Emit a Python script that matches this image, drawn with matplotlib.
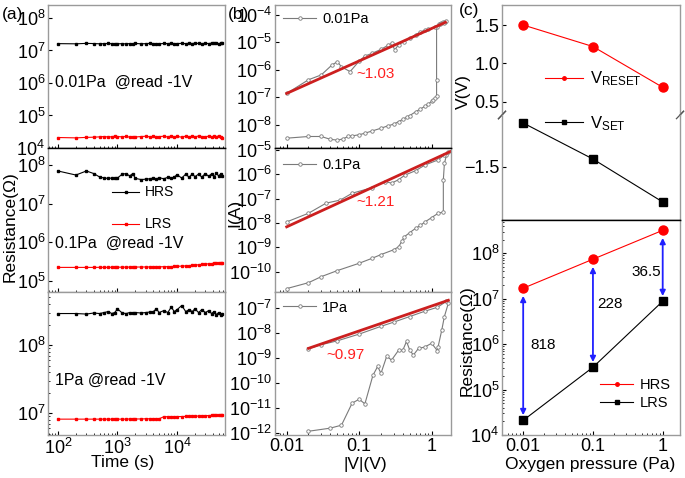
import numpy as np
import matplotlib.pyplot as plt
from matplotlib.lines import Line2D

plt.rcParams['font.family'] = ['Liberation Sans', 'DejaVu Sans']
plt.rcParams['mathtext.default'] = 'regular'

# ---- (a) retention data ----
t = [100, 200, 300, 400, 500, 600, 700, 800, 900, 1000, 1200, 1400, 1600, 1800, 2000,
     2500, 3000, 3500, 4000, 4500, 5000, 6000, 7000, 8000, 9000, 10000, 12000, 14000,
     16000, 18000, 20000, 23000, 26000, 30000, 34000, 38000, 42000, 46000, 50000, 54000, 58000]
hrs_001 = [1.62, 1.60, 1.65, 1.63, 1.60, 1.62, 1.64, 1.61, 1.63, 1.60, 1.62, 1.59, 1.63, 1.61,
           1.64, 1.60, 1.62, 1.65, 1.61, 1.63, 1.60, 1.64, 1.62, 1.66, 1.61, 1.63, 1.65, 1.62,
           1.66, 1.63, 1.67, 1.64, 1.62, 1.66, 1.63, 1.67, 1.64, 1.66, 1.63, 1.65, 1.64]  # x1e7
lrs_001 = [2.10, 2.05, 2.12, 2.15, 2.20, 2.25, 2.18, 2.22, 2.30, 2.25, 2.20, 2.28, 2.15, 2.22,
           2.18, 2.25, 2.30, 2.20, 2.27, 2.15, 2.24, 2.30, 2.18, 2.35, 2.20, 2.28, 2.15, 2.32,
           2.22, 2.30, 2.18, 2.35, 2.25, 2.20, 2.32, 2.15, 2.28, 2.24, 2.35, 2.20, 2.10]  # x1e4
hrs_01 = [7.0, 5.5, 7.0, 6.0, 4.9, 4.6, 4.5, 4.6, 4.5, 4.6, 5.8, 6.0, 5.2, 6.0, 4.5, 4.2, 4.3,
          4.4, 4.6, 4.3, 4.7, 4.4, 4.8, 4.5, 4.9, 5.6, 4.6, 5.8, 4.8, 5.9, 5.0, 5.8, 4.9, 6.0,
          5.1, 5.9, 5.0, 6.1, 5.2, 5.8, 5.3]  # x1e7
lrs_01 = [2.25, 2.25, 2.25, 2.25, 2.26, 2.26, 2.26, 2.27, 2.27, 2.28, 2.28, 2.29, 2.29, 2.30,
          2.30, 2.30, 2.31, 2.31, 2.32, 2.32, 2.33, 2.34, 2.35, 2.36, 2.38, 2.40, 2.43, 2.46,
          2.50, 2.54, 2.58, 2.63, 2.68, 2.74, 2.79, 2.83, 2.86, 2.89, 2.92, 2.94, 2.95]  # x1e5
hrs_1 = [2.9, 2.9, 2.85, 2.95, 2.9, 3.0, 3.1, 2.9, 3.0, 3.4, 2.95, 2.9, 3.0, 2.95, 3.0, 2.95,
         3.0, 3.05, 3.1, 3.4, 3.0, 3.2, 3.0, 3.6, 3.1, 3.3, 3.8, 3.1, 3.3, 3.1, 3.4, 3.0, 3.3,
         3.0, 3.2, 2.9, 3.1, 2.8, 3.0, 2.8, 2.9]  # x1e8
lrs_1 = [8.2, 8.2, 8.2, 8.2, 8.2, 8.2, 8.2, 8.2, 8.2, 8.2, 8.2, 8.2, 8.25, 8.25, 8.25, 8.25,
         8.3, 8.3, 8.3, 8.3, 8.3, 8.9, 8.9, 8.9, 8.9, 8.95, 8.95, 9.0, 9.0, 9.05, 9.1, 9.1,
         9.15, 9.2, 9.25, 9.3, 9.35, 9.4, 9.4, 9.45, 9.5]  # x1e6

# ---- (b) I-V data ----
v_001 = [0.01, 0.02, 0.03, 0.04, 0.05, 0.06, 0.07, 0.08, 0.1, 0.12, 0.15, 0.2, 0.25, 0.3,
         0.35, 0.4, 0.45, 0.5, 0.6, 0.7, 0.8, 0.9, 1.0, 1.05, 1.1, 1.17, 1.17, 1.17, 1.25,
         1.35, 1.45, 1.55, 1.6, 1.5, 1.3, 1.1, 0.9, 0.8, 0.7, 0.6, 0.5, 0.41, 0.35, 0.31,
         0.28, 0.25, 0.2, 0.15, 0.12, 0.1, 0.075, 0.057, 0.05, 0.042, 0.03, 0.02, 0.01]
i_001 = [3.3e-9, 3.8e-9, 3.8e-9, 3.0e-9, 2.8e-9, 3.1e-9, 3.8e-9, 4.0e-9, 4.4e-9, 5.0e-9,
         6.0e-9, 7.6e-9, 9.3e-9, 1.07e-8, 1.32e-8, 1.6e-8, 1.9e-8, 2.2e-8, 3.0e-8, 3.8e-8,
         4.7e-8, 5.8e-8, 7.2e-8, 8.1e-8, 9.3e-8, 1.1e-7, 4.4e-7, 3.5e-5, 4.5e-5, 5.0e-5,
         5.4e-5, 5.6e-5, 5.8e-5, 5.2e-5, 4.5e-5, 3.5e-5, 3.0e-5, 2.8e-5, 2.4e-5, 1.9e-5,
         1.4e-5, 1.07e-5, 8.3e-6, 5.4e-6, 9.3e-6, 7.9e-6, 5.6e-6, 4.0e-6, 3.2e-6, 2.1e-6,
         8.7e-7, 1.3e-6, 2.0e-6, 1.5e-6, 6.6e-7, 4.4e-7, 1.4e-7]
v_01 = [0.01, 0.02, 0.03, 0.05, 0.1, 0.15, 0.2, 0.3, 0.35, 0.39, 0.42, 0.5, 0.6, 0.7, 0.81,
        1.0, 1.23, 1.45, 1.45, 1.5, 1.6, 1.7, 1.5, 1.23, 0.81, 0.6, 0.43, 0.35, 0.28, 0.23,
        0.15, 0.08, 0.055, 0.035, 0.02, 0.01]
i_01 = [2.0e-11, 3.5e-11, 6.2e-11, 1.1e-10, 2.2e-10, 3.5e-10, 5.0e-10, 7.9e-10, 1.05e-9,
        1.8e-9, 2.7e-9, 4.0e-9, 6.0e-9, 7.9e-9, 1.1e-8, 1.66e-8, 2.5e-8, 2.8e-8, 5.9e-7,
        2.8e-6, 6.0e-6, 8.0e-6, 6.2e-6, 3.9e-6, 2.4e-6, 1.4e-6, 9.3e-7, 6.0e-7, 4.3e-7,
        5.0e-7, 2.8e-7, 1.66e-7, 8.7e-8, 6.5e-8, 2.5e-8, 1.1e-8]
v_1 = [0.02, 0.04, 0.057, 0.08, 0.1, 0.12, 0.155, 0.18, 0.2, 0.24, 0.28, 0.35, 0.4, 0.45,
       0.5, 0.56, 0.66, 0.8, 1.0, 1.2, 1.23, 1.38, 1.5, 1.7, 1.6, 1.2, 0.8, 0.5, 0.3, 0.2,
       0.1, 0.05, 0.03, 0.02]
i_1 = [1.2e-12, 1.6e-12, 2.1e-12, 1.6e-11, 2.3e-11, 1.5e-11, 2.1e-10, 4.7e-10, 2.5e-10,
       1.2e-9, 8.5e-10, 2.1e-9, 2.1e-9, 4.7e-9, 2.1e-9, 1.35e-9, 2.5e-9, 2.8e-9, 4.0e-9,
       2.0e-9, 2.95e-9, 1.35e-8, 4.7e-8, 1.6e-7, 1.9e-7, 1.1e-7, 7.6e-8, 4.7e-8, 2.8e-8,
       1.9e-8, 9.3e-9, 5.0e-9, 3.5e-9, 2.4e-9]
fit_v = [[0.01, 1.55], [0.01, 1.8], [0.02, 1.7]]
fit_i = [[1.4e-7, 5.4e-5], [6.9e-9, 8.5e-6], [2.5e-9, 2.1e-7]]
slopes = ['~1.03', '~1.21', '~0.97']

# ---- (c) summary ----
pressure = [0.01, 0.1, 1]
v_reset = [1.50, 1.22, 0.69]
v_set = [-0.93, -1.40, -1.96]
hrs_c = [1.7e7, 7.4e7, 3.2e8]
lrs_c = [2.1e4, 3.1e5, 8.8e6]
ratios = ['818', '228', '36.5']

W, H = 685, 478
fig = plt.figure(figsize=(W / 100, H / 100), dpi=100)


def add_ax(x0, x1, y0, y1):
    return fig.add_axes([x0 / W, 1 - y1 / H, (x1 - x0) / W, (y1 - y0) / H])


FRAME = '#9a9a9a'


def style(ax):
    for s in ax.spines.values():
        s.set_color(FRAME)
        s.set_linewidth(1.0)
    ax.tick_params(which='both', direction='in', labelsize=13, pad=2)
    ax.tick_params(which='major', length=3)
    ax.tick_params(which='minor', length=1.5)


# ---------- panel (a) ----------
rows = [(5, 148), (148, 292), (292, 435)]
a_ylims = [(1e4, 2.5e8), (5.2e4, 2.75e8), (4.8e6, 6e8)]
a_yticks = [[1e4, 1e5, 1e6, 1e7, 1e8], [1e5, 1e6, 1e7, 1e8], [1e7, 1e8]]
a_hrs = [np.array(hrs_001) * 1e7, np.array(hrs_01) * 1e7, np.array(hrs_1) * 1e8]
a_lrs = [np.array(lrs_001) * 1e4, np.array(lrs_01) * 1e5, np.array(lrs_1) * 1e6]
a_text = ['0.01Pa  @read -1V', '0.1Pa  @read -1V', '1Pa @read -1V']
a_text_y = [0.46, 0.34, 0.385]
for k, (y0, y1) in enumerate(rows):
    ax = add_ax(48, 225, y0, y1)
    style(ax)
    ax.set_xscale('log')
    ax.set_yscale('log')
    ax.plot(t, a_hrs[k], '-s', color='black', ms=2, lw=0.8, label='HRS')
    ax.plot(t, a_lrs[k], '-s', color='#ff0000', ms=2, lw=0.8, label='LRS')
    ax.set_xlim(68, 6.4e4)
    ax.set_ylim(*a_ylims[k])
    ax.set_yticks(a_yticks[k])
    ax.text(0.04, a_text_y[k], a_text[k], transform=ax.transAxes, fontsize=11.5,
            va='center', ha='left')
    if k < 2:
        ax.tick_params(labelbottom=False)
    if k == 0:
        ax.spines['bottom'].set_color('black')
    if k == 1:
        ax.spines['top'].set_color('black')
        ax.legend(loc='upper left', bbox_to_anchor=(0.36, 0.74), frameon=False,
                  fontsize=10, labelspacing=1.3, handlelength=2.0, handletextpad=0.4,
                  borderpad=0, borderaxespad=0)
    if k == 2:
        ax.set_xticks([1e2, 1e3, 1e4])

# ---------- panel (b) ----------
b_ylims = [(1.45e-9, 2.3e-4), (1.45e-11, 1.2e-5), (8.5e-13, 4.5e-7)]
b_v = [v_001, v_01, v_1]
b_i = [i_001, i_01, i_1]
b_lab = ['0.01Pa', '0.1Pa', '1Pa']
b_leg_y = [0.95, 0.93, 0.94]
b_slope_pos = [(0.57, 0.52), (0.57, 0.627), (0.40, 0.56)]
for k, (y0, y1) in enumerate(rows):
    ax = add_ax(275, 451, y0, y1)
    style(ax)
    ax.set_xscale('log')
    ax.set_yscale('log')
    ax.plot(b_v[k], b_i[k], '-o', color='#7a7a7a', mfc='white', ms=2.5, mew=0.6,
            lw=0.8, label=b_lab[k])
    ax.plot(fit_v[k], fit_i[k], color='#cc1f1f', lw=2)
    ax.set_xlim(0.0069, 1.85)
    ax.set_ylim(*b_ylims[k])
    ax.yaxis.set_major_locator(plt.LogLocator(base=10, numticks=15))
    ax.yaxis.set_minor_locator(plt.NullLocator())
    ax.text(*b_slope_pos[k], slopes[k], transform=ax.transAxes, color='#ff2020',
            fontsize=11, ha='center', va='center')
    ax.legend(loc='upper left', bbox_to_anchor=(0.045, b_leg_y[k]), frameon=False,
              fontsize=10.5, handlelength=2.3, handletextpad=0.4, borderpad=0,
              borderaxespad=0)
    ax.set_xticks([0.01, 0.1, 1])
    if k < 2:
        ax.tick_params(labelbottom=False)
    else:
        ax.set_xticklabels(['0.01', '0.1', '1'])
    if k == 0:
        ax.spines['bottom'].set_color('black')
    if k == 1:
        ax.spines['top'].set_color('black')

# ---------- panel (c) ----------
cx = (0.00497, 1.77)
ax_u = add_ax(502, 680, 5, 115)
ax_l = add_ax(502, 680, 115, 220)
for ax in (ax_u, ax_l):
    style(ax)
    ax.set_xscale('log')
    ax.set_xlim(*cx)
    ax.tick_params(which='both', bottom=False, labelbottom=False)
ax_u.spines['bottom'].set_visible(False)
ax_l.spines['top'].set_visible(False)
ax_l.spines['bottom'].set_color('black')
ax_u.plot(pressure, v_reset, '-o', color='#ff0000', ms=6.5, lw=0.8)
ax_l.plot(pressure, v_set, '-s', color='black', ms=6, lw=0.8)
ax_u.set_ylim(0.33, 1.76)
ax_u.set_yticks([0.5, 1.0, 1.5])
ax_l.set_ylim(-2.195, -0.826)
ax_l.set_yticks([-1.5])
ax_u.legend(handles=[Line2D([], [], color='#ff0000', marker='o', ms=2.5, lw=0.8)],
            labels=['V$_{RESET}$'], loc='center left', bbox_to_anchor=(0.24, 0.33),
            frameon=False, fontsize=12, handlelength=2.3, handletextpad=0.4,
            borderpad=0, borderaxespad=0)
ax_l.legend(handles=[Line2D([], [], color='black', marker='s', ms=2.5, lw=0.8)],
            labels=['V$_{SET}$'], loc='center left', bbox_to_anchor=(0.24, 0.92),
            frameon=False, fontsize=12, handlelength=2.3, handletextpad=0.4,
            borderpad=0, borderaxespad=0)
# break marks
for ax, yy in ((ax_u, 0.0), (ax_l, 1.0)):
    for xx in (0.0, 1.0):
        ax.plot([xx - 0.02, xx + 0.02], [yy - 0.035, yy + 0.035], transform=ax.transAxes,
                color='#555555', lw=0.9, clip_on=False)

ax_c = add_ax(502, 680, 220, 435)
style(ax_c)
ax_c.set_xscale('log')
ax_c.set_yscale('log')
ax_c.plot(pressure, hrs_c, '-o', color='#ff0000', ms=6.5, lw=0.8)
ax_c.plot(pressure, lrs_c, '-s', color='black', ms=6, lw=0.8)
for p, h, l in zip(pressure, hrs_c, lrs_c):
    ax_c.annotate('', xy=(p, l * 1.3), xytext=(p, h * 0.68),
                  arrowprops=dict(arrowstyle='<|-|>', color='#2020ff', lw=1.3,
                                  mutation_scale=8, shrinkA=0, shrinkB=0))
for txt, (xx, yy) in zip(ratios, [(0.23, 0.419), (0.607, 0.609), (0.809, 0.758)]):
    ax_c.text(xx, yy, txt, transform=ax_c.transAxes, fontsize=11, ha='center', va='center')
ax_c.set_xlim(*cx)
ax_c.set_ylim(1e4, 5.4e8)
ax_c.set_yticks([1e4, 1e5, 1e6, 1e7, 1e8])
ax_c.set_xticks(pressure)
ax_c.set_xticklabels(['0.01', '0.1', '1'])
ax_c.spines['top'].set_color('black')
ax_c.legend(handles=[Line2D([], [], color='#ff0000', marker='o', ms=2.5, lw=0.8),
                     Line2D([], [], color='black', marker='s', ms=2.5, lw=0.8)],
            labels=['HRS', 'LRS'], loc='center left', bbox_to_anchor=(0.55, 0.19),
            frameon=False, fontsize=10.5, labelspacing=0.25, handlelength=2.3,
            handletextpad=0.4, borderpad=0, borderaxespad=0)

# ---------- labels ----------
fs = 12.5
fig.text(10 / W, 1 - 227 / H, 'Resistance(Ω)', rotation=90, ha='center', va='center', fontsize=fs)
fig.text(235 / W, 1 - 213 / H, 'I(A)', rotation=90, ha='center', va='center', fontsize=fs)
fig.text(463 / W, 1 - 92 / H, 'V(V)', rotation=90, ha='center', va='center', fontsize=fs)
fig.text(467 / W, 1 - 341 / H, 'Resistance(Ω)', rotation=90, ha='center', va='center', fontsize=fs)
fig.text(123 / W, 1 - 463 / H, 'Time (s)', ha='center', va='center', fontsize=fs)
fig.text(365 / W, 1 - 464 / H, '|V|(V)', ha='center', va='center', fontsize=fs)
fig.text(590 / W, 1 - 465 / H, 'Oxygen pressure (Pa)', ha='center', va='center', fontsize=fs)
fig.text(2 / W, 1 - 14 / H, '(a)', ha='left', va='center', fontsize=12.5)
fig.text(228 / W, 1 - 14 / H, '(b)', ha='left', va='center', fontsize=12.5)
fig.text(459 / W, 1 - 10 / H, '(c)', ha='left', va='center', fontsize=12.5)

fig.savefig('out.png', dpi=100)
